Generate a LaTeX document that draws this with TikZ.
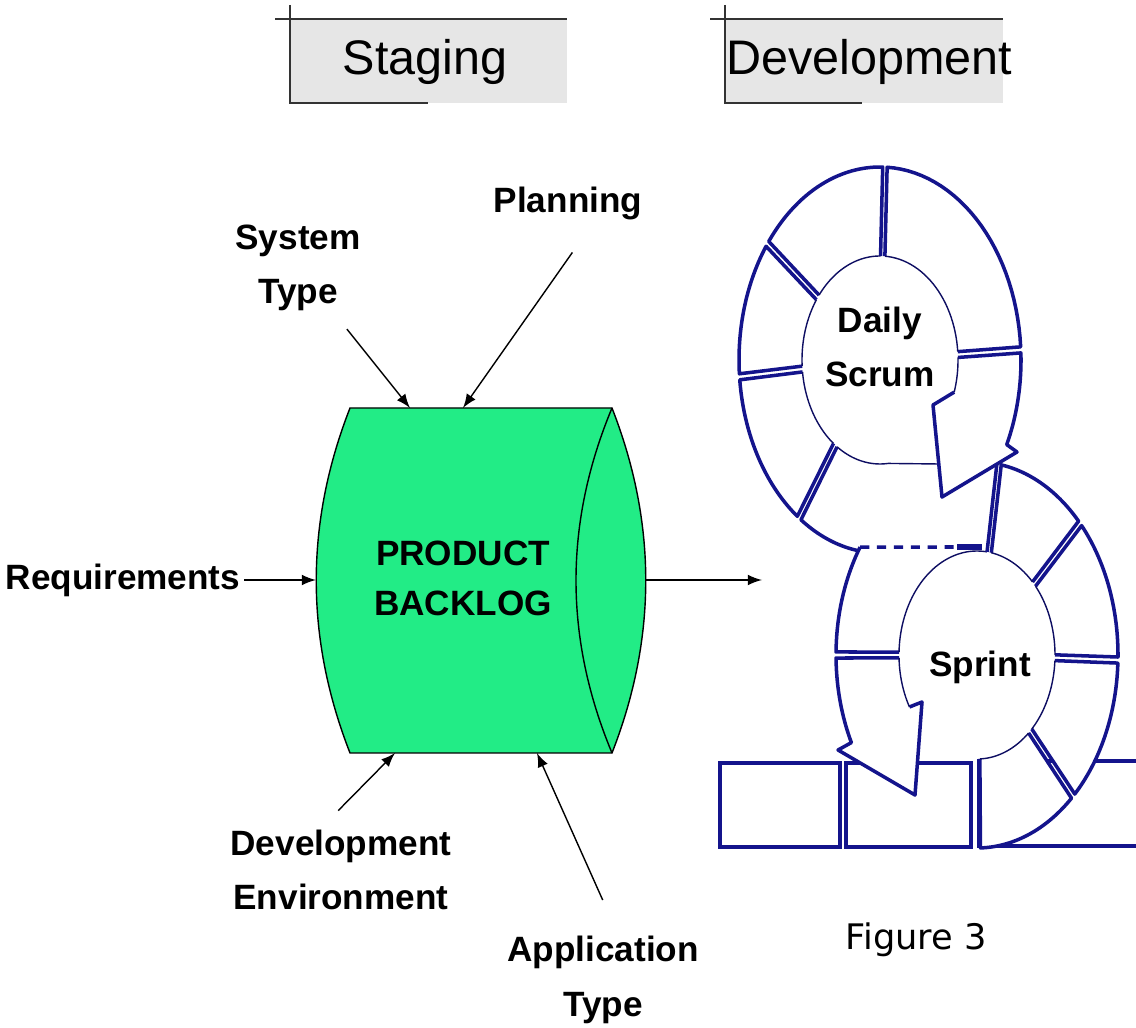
\documentclass[tikz,border=0pt]{standalone}
\usepackage{fontspec}
\setmainfont{Liberation Sans}
\newfontfamily\figfont{DejaVu Sans}
\usepackage{tikz}
\usetikzlibrary{arrows}
\definecolor{ringblue}{RGB}{20,20,140}
\definecolor{blgreen}{RGB}{34,236,134}
\definecolor{headgray}{RGB}{230,230,230}
\newcommand*{\rox}{141}
\newcommand*{\roy}{193}
\newcommand*{\rix}{78}
\newcommand*{\riy}{104}
% 輪の一区画
\newcommand{\ringseg}[2]{%
  \pgfmathsetmacro{\sOa}{#1+0.9}\pgfmathsetmacro{\sOb}{#2-0.9}%
  \pgfmathsetmacro{\sIa}{#1+1.6}\pgfmathsetmacro{\sIb}{#2-1.6}%
  \fill[white] plot[domain=\sOa:\sOb, samples=30] ({\rox*cos(\x)},{\roy*sin(\x)})
    -- plot[domain=\sIb:\sIa, samples=30] ({\rix*cos(\x)},{\riy*sin(\x)}) -- cycle;
  \draw[ringline] ({\rix*cos(\sIa)},{\riy*sin(\sIa)})
    -- plot[domain=\sOa:\sOb, samples=30] ({\rox*cos(\x)},{\roy*sin(\x)})
    -- ({\rix*cos(\sIb)},{\riy*sin(\sIb)});
  \draw[ringthin] plot[domain=\sIa:\sIb, samples=30] ({\rix*cos(\x)},{\riy*sin(\x)});
}

\begin{document}
\begin{tikzpicture}[x=0.01cm, y=-0.01cm,
  feed/.style={-latex, thin},
  lbl/.style={font=\fontsize{10}{15.5}\selectfont\bfseries, align=center, inner sep=1pt},
  ringline/.style={draw=ringblue, line width=1pt, line join=round},
  ringthin/.style={draw=ringblue!70!black, line width=0.4pt},
  boxline/.style={draw=ringblue, line width=1pt},
  headline/.style={draw=black!80, line width=0.6pt}]
\useasboundingbox (0,0) rectangle (1136,1028);

% 見出し
\fill[headgray] (290,19) rectangle (567,103);
\draw[headline] (275,19) -- (567,19) (290,5) -- (290,103) -- (428,103);
\node[font=\fontsize{13.8}{16}\selectfont] (staging) at (425,62) {Staging};
\fill[headgray] (725,19) rectangle (1003,103);
\draw[headline] (710,19) -- (1003,19) (725,5) -- (725,103) -- (862,103);
\node[font=\fontsize{13.8}{16}\selectfont] (development) at (869,62) {Development};

% バックログ
\filldraw[fill=blgreen, draw=black, line width=0.4pt] (350,408) -- (612,408)
  .. controls (657,523) and (657,638) .. (612,753) -- (350,753)
  .. controls (305,638) and (305,523) .. (350,408) -- cycle;
\draw[black, line width=0.4pt] (612,408) .. controls (564,523) and (564,638) .. (612,753);
\node[lbl, font=\fontsize{10}{14.2}\selectfont\bfseries] (backlog) at (463,578) {PRODUCT\\BACKLOG};
\coordinate (blTopL) at (410,408);
\coordinate (blTopR) at (463,408);
\coordinate (blLeft) at (316,580);
\coordinate (blRight) at (646,580);
\coordinate (blBotL) at (395,753);
\coordinate (blBotR) at (537,753);
\coordinate (outEnd) at (762,580);

\node[lbl] (sysType) at (298,268) {System\\Type};
\node[lbl] (planning) at (568,203) {Planning};
\node[lbl] (requirements) at (123,580) {Requirements};
\node[lbl] (devEnv) at (341,870) {Development\\Environment};
\node[lbl] (appType) at (603,980) {Application\\Type};

\draw[feed, shorten <=5pt] (sysType) -- (blTopL);
\draw[feed, shorten <=10pt] ([xshift=7pt]planning.south) -- (blTopR);
\draw[feed] (requirements) -- (blLeft);
\draw[feed] (blRight) -- (outEnd);
\draw[feed, shorten <=6pt] ([xshift=-5pt]devEnv.north) -- (blBotL);
\draw[feed, shorten <=10pt] ([xshift=4pt]appType.north) -- (blBotR);

% 下の箱
\draw[boxline] (720,763) rectangle (840,847);
\draw[boxline] (846,763) rectangle (971,847);
\draw[boxline] (1136,761) -- (979,761) -- (979,846) -- (1136,846);

% Sprint の輪
\begin{scope}[shift={(977,655)}]
  \draw[ringline] ({\rix*cos(181.6)},{\riy*sin(181.6)})
    -- plot[domain=180.9:214, samples=20] ({\rox*cos(\x)},{\roy*sin(\x)});
  \draw[ringthin] plot[domain=181.6:277.4, samples=40] ({\rix*cos(\x)},{\riy*sin(\x)});
  \draw[ringline] ({\rix*cos(277.4)},{\riy*sin(277.4)}) -- ({\rox*cos(278.1)},{\roy*sin(278.1)});
  \draw[ringline, dash pattern=on 2.6pt off 2.2pt] ({\rox*cos(214)},{\roy*sin(214)}) -- (-20,-108);
  \draw[ringline, line width=1.6pt] (-20,-108) -- (5,-108);
  \ringseg{279}{317}
  \ringseg{317}{361.5}
  \ringseg{361.5}{407}
  \ringseg{407}{449.5}
  \fill[white] plot[domain=179.1:153, samples=20] ({\rox*cos(\x)},{\roy*sin(\x)})
    -- (-139,95) -- (-62,140) -- (-55,47)
    -- plot[domain=150:178.4, samples=20] ({\rix*cos(\x)},{\riy*sin(\x)}) -- cycle;
  \draw[ringline] ({\rix*cos(178.4)},{\riy*sin(178.4)})
    -- plot[domain=179.1:153, samples=20] ({\rox*cos(\x)},{\roy*sin(\x)})
    -- (-139,95) -- (-62,140) -- (-55,47) -- ({\rix*cos(150)},{\riy*sin(150)});%矢印
  \draw[ringthin] plot[domain=150:178.4, samples=20] ({\rix*cos(\x)},{\riy*sin(\x)});
\end{scope}

% Daily Scrum の輪
\begin{scope}[shift={(880,360)}]
  \ringseg{125}{175}
  \ringseg{175}{217}
  \ringseg{217}{272}
  \ringseg{272}{357}
  \draw[ringline] plot[domain=99:124.1, samples=20] ({\rox*cos(\x)},{\roy*sin(\x)})
    -- ({\rix*cos(123.4)},{\riy*sin(123.4)});
  \draw[ringthin] plot[domain=123.4:84, samples=20] ({\rix*cos(\x)},{\riy*sin(\x)}) -- (59,104);
  \fill[white] plot[domain=357.9:386, samples=20] ({\rox*cos(\x)},{\roy*sin(\x)})
    -- (137,92) -- (62,137) -- (53,45)
    -- plot[domain=378:358.6, samples=20] ({\rix*cos(\x)},{\riy*sin(\x)}) -- cycle;
  \draw[ringline] ({\rix*cos(358.6)},{\riy*sin(358.6)})
    -- plot[domain=357.9:386, samples=20] ({\rox*cos(\x)},{\roy*sin(\x)})
    -- (137,92) -- (62,137) -- (53,45) -- ({\rix*cos(378)},{\riy*sin(378)});%矢印
  \draw[ringthin] plot[domain=358.6:378, samples=20] ({\rix*cos(\x)},{\riy*sin(\x)});
\end{scope}

\node[lbl] (dailyScrum) at (880,347) {Daily\\Scrum};
\node[lbl] (sprint) at (980,667) {Sprint};
\node[font=\figfont\fontsize{10}{12}\selectfont] (figLabel) at (916,940) {Figure 3};
\end{tikzpicture}
\end{document}
